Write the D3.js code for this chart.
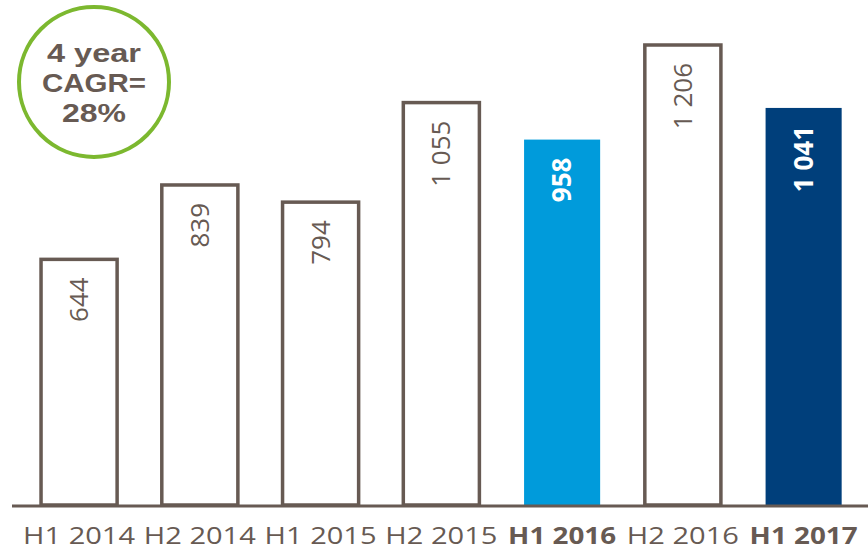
<!DOCTYPE html>
<html>
<head>
<meta charset="utf-8">
<script src="https://cdn.jsdelivr.net/npm/d3@7"></script>
<style>
  body { margin: 0; background: #fff; }
  svg { display: block; }
</style>
</head>
<body>
<svg id="chart" width="868" height="553"></svg>
<script>
const categories = ["H1 2014", "H2 2014", "H1 2015", "H2 2015", "H1 2016", "H2 2016", "H1 2017"];
const values = [644, 839, 794, 1055, 958, 1206, 1041];
const valueLabels = ["644", "839", "794", "1 055", "958", "1 206", "1 041"];
const highlight = ["", "", "", "", "light", "", "dark"];
const cagrLines = ["4 year", "CAGR=", "28%"];

const GREY = "#675a53";
const LIGHT_BLUE = "#009bdb";
const DARK_BLUE = "#003f7b";
const GREEN = "#7cb82f";

const baseline = 505;

const svg = d3.select("#chart");

const x = d3
  .scaleBand()
  .domain(categories)
  .range([18.7, 864])
  .paddingInner(0.37)
  .paddingOuter(0.185);

const y = d3.scaleLinear().domain([0, 1206]).range([baseline, 45]);

const fillFor = (h) => (h === "light" ? LIGHT_BLUE : h === "dark" ? DARK_BLUE : "#fff");

const data = categories.map((c, i) => ({
  cat: c,
  value: values[i],
  label: valueLabels[i],
  hl: highlight[i],
}));

// bars
svg
  .selectAll("rect.bar")
  .data(data)
  .enter()
  .append("rect")
  .attr("class", "bar")
  .attr("x", (d) => x(d.cat))
  .attr("y", (d) => y(d.value))
  .attr("width", x.bandwidth())
  .attr("height", (d) => baseline - y(d.value))
  .attr("fill", (d) => fillFor(d.hl))
  .attr("stroke", (d) => (d.hl ? "none" : GREY))
  .attr("stroke-width", 3.5);

// value labels, rotated, near top of bar
svg
  .selectAll("text.val")
  .data(data)
  .enter()
  .append("text")
  .attr("class", "val")
  .attr(
    "transform",
    (d) => "translate(" + (x(d.cat) + x.bandwidth() / 2 + 9) + "," + (y(d.value) + 18) + ") rotate(-90)"
  )
  .attr("text-anchor", "end")
  .attr("font-family", "'Open Sans', sans-serif")
  .attr("font-size", 26)
  .attr("font-weight", (d) => (d.hl ? "bold" : "normal"))
  .attr("fill", (d) => (d.hl ? "#fff" : GREY))
  .text((d) => d.label);

// category axis
svg
  .append("g")
  .attr("transform", "translate(0," + baseline + ")")
  .call(d3.axisBottom(x).tickSize(0).tickPadding(14))
  .call((g) => g.select(".domain").remove())
  .call((g) =>
    g
      .selectAll("text")
      .attr("font-family", "'Open Sans', sans-serif")
      .attr("font-size", 24)
      .attr("fill", GREY)
      .attr("font-weight", (d, i) => (highlight[i] ? "bold" : "normal"))
      .attr("textLength", (d, i) => (highlight[i] ? 108 : 112))
      .attr("lengthAdjust", "spacingAndGlyphs")
      .attr("dy", "1.05em")
  );

svg
  .append("line")
  .attr("x1", 12)
  .attr("x2", 868)
  .attr("y1", baseline + 1)
  .attr("y2", baseline + 1)
  .attr("stroke", GREY)
  .attr("stroke-width", 3);

// CAGR badge
const badge = svg.append("g").attr("transform", "translate(94,82)");
badge
  .append("circle")
  .attr("r", 75)
  .attr("fill", "#fff")
  .attr("stroke", GREEN)
  .attr("stroke-width", 4);
badge
  .selectAll("text")
  .data(cagrLines)
  .enter()
  .append("text")
  .attr("text-anchor", "middle")
  .attr("y", (d, i) => -20 + i * 30)
  .attr("font-family", "'Liberation Sans', Arial, sans-serif")
  .attr("font-size", 26)
  .attr("font-weight", "bold")
  .attr("fill", GREY)
  .attr("textLength", (d, i) => [94, 104, 64][i])
  .attr("lengthAdjust", "spacingAndGlyphs")
  .text((d) => d);
</script>
</body>
</html>
